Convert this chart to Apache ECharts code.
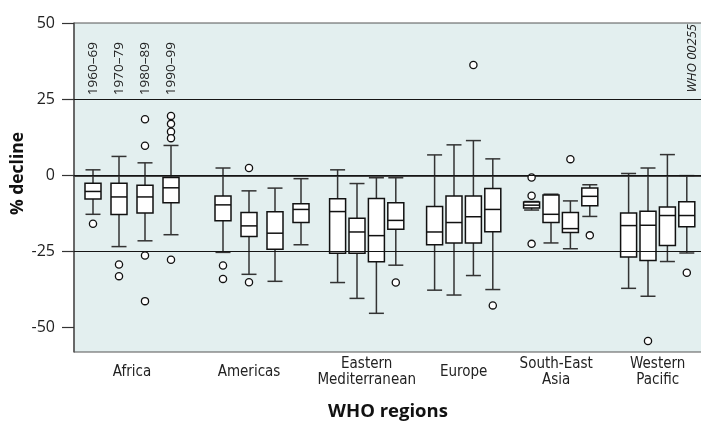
<!DOCTYPE html>
<html><head><meta charset="utf-8">
<script src="https://cdn.jsdelivr.net/npm/echarts@6/dist/echarts.min.js"></script>
<style>html,body{margin:0;padding:0;background:#fff}#c{width:701px;height:423px}</style>
</head><body><div id="c"></div>
<script>
// ---------- data ----------
const regions = ['Africa', 'Americas', 'Eastern\nMediterranean', 'Europe', 'South-East\nAsia', 'Western\nPacific'];
const decades = ['1960–69', '1970–79', '1980–89', '1990–99'];
const yTicks = [50, 25, 0, -25, -50];
const refLines = [25, 0, -25];
const sourceCode = 'WHO 00255';
// box statistics per decade: [min, Q1, median, Q3, max]
const africa = [[-12.8, -7.8, -5.3, -2.6, 1.8], [-23.4, -12.9, -7.1, -2.6, 6.2], [-21.5, -12.4, -7.1, -3.3, 4.1], [-19.5, -9.0, -4.1, -0.7, 9.8]];
const americas = [[-25.3, -14.9, -9.7, -6.8, 2.4], [-32.5, -20.1, -16.6, -12.2, -5.1], [-34.8, -24.3, -19.0, -12.0, -4.2], [-22.8, -15.5, -11.2, -9.3, -1.1]];
const easternMed = [[-35.2, -25.6, -11.9, -7.7, 1.8], [-40.4, -25.6, -18.6, -14.1, -2.7], [-45.3, -28.4, -19.8, -7.6, -0.8], [-29.5, -17.7, -14.8, -9.0, -0.8]];
const europe = [[-37.7, -22.8, -18.6, -10.2, 6.7], [-39.3, -22.2, -15.5, -6.8, 10.0], [-32.9, -22.2, -13.6, -6.8, 11.4], [-37.5, -18.5, -11.2, -4.3, 5.4]];
const southEastAsia = [[-11.4, -10.7, -9.8, -8.8, -8.6], [-22.2, -15.5, -12.8, -6.5, -6.2], [-24.1, -18.8, -17.5, -12.2, -8.4], [-13.5, -10.0, -6.9, -4.2, -3.1]];
const westernPacific = [[-37.1, -26.8, -16.5, -12.4, 0.6], [-39.7, -28.0, -16.4, -11.8, 2.4], [-28.3, -23.0, -13.2, -10.4, 6.8], [-25.5, -16.9, -13.2, -8.7, -0.1]];
// outliers per decade
const africaOut = [[-15.9], [-29.3, -33.1], [18.4, 9.7, -26.3, -41.3], [19.5, 16.9, 14.3, 12.2, -27.7]];
const americasOut = [[-29.6, -34.0], [2.4, -35.1], [], []];
const easternMedOut = [[], [], [], [-35.2]];
const europeOut = [[], [], [36.2], [-42.7]];
const southEastAsiaOut = [[-0.7, -6.7, -22.5], [], [5.3], [-19.7]];
const westernPacificOut = [[], [-54.4], [], [-32.0]];

// ---------- build ----------
const groupA = [africa, americas], groupAOut = [africaOut, americasOut];
const groupB = [easternMed, europe, southEastAsia, westernPacific];
const groupBOut = [easternMedOut, europeOut, southEastAsiaOut, westernPacificOut];

function boxRows(group) {
  const rows = [];
  group.forEach((reg, r) => reg.forEach((s, d) => rows.push([r, d].concat(s))));
  return rows;
}
function outRows(group) {
  const rows = [];
  group.forEach((reg, r) => reg.forEach((vals, d) => vals.forEach(v => rows.push([r, d, v]))));
  return rows;
}

function boxX(api, r, d) {
  return api.coord([r, 0])[0] + (d - 1.5) * api.size([1, 0])[0] * 0.2;
}
function renderBox(params, api) {
  const r = api.value(0), d = api.value(1);
  const x = boxX(api, r, d);
  const y = i => api.coord([r, api.value(i)])[1];
  const yMin = y(2), yQ1 = y(3), yMed = y(4), yQ3 = y(5), yMax = y(6);
  const hw = 8, cw = 7.5;
  const ws = { stroke: '#333', lineWidth: 1.5 };
  return {
    type: 'group', children: [
      { type: 'line', shape: { x1: x, y1: yMax, x2: x, y2: yQ3 }, style: ws },
      { type: 'line', shape: { x1: x, y1: yQ1, x2: x, y2: yMin }, style: ws },
      { type: 'line', shape: { x1: x - cw, y1: yMax, x2: x + cw, y2: yMax }, style: ws },
      { type: 'line', shape: { x1: x - cw, y1: yMin, x2: x + cw, y2: yMin }, style: ws },
      { type: 'rect', shape: { x: x - hw, y: yQ3, width: 2 * hw, height: yQ1 - yQ3 }, style: { fill: '#fff', stroke: '#111', lineWidth: 1.5 } },
      { type: 'line', shape: { x1: x - hw, y1: yMed, x2: x + hw, y2: yMed }, style: { stroke: '#111', lineWidth: 1.5 } }
    ]
  };
}
function renderOut(params, api) {
  const r = api.value(0), d = api.value(1);
  const x = boxX(api, r, d);
  const yy = api.coord([r, api.value(2)])[1];
  return { type: 'circle', shape: { cx: x, cy: yy, r: 3.6 }, style: { fill: '#fff', stroke: '#111', lineWidth: 1.3 } };
}
function renderDecade(params, api) {
  const d = api.value(1);
  const x = boxX(api, 0, d);
  const yy = api.coord([0, refLines[0]])[1] - 4;
  return {
    type: 'text', x: x, y: yy, rotation: Math.PI / 2,
    style: { text: decades[d], fill: '#222', font: '13.5px "Open Sans"', align: 'left', verticalAlign: 'middle' }
  };
}

const regionLabel = {
  fontFamily: '"DejaVu Sans Condensed", "Open Sans"', fontSize: 15, lineHeight: 16, color: '#222',
  verticalAlign: 'middle', margin: 20, interval: 0
};
const catAxisBase = { type: 'category', axisLine: { show: false }, axisTick: { show: false }, splitLine: { show: false }, axisLabel: regionLabel };
const yHidden = { type: 'value', min: -58, max: 50, show: false };
function shifted(name, px) {
  return { value: name, textStyle: { padding: [0, px, 0, 0], verticalAlign: 'middle', align: 'center' } };
}

const chart = echarts.init(document.getElementById('c'), null, { renderer: 'canvas' });
chart.setOption({
  animation: false,
  textStyle: { fontFamily: 'Open Sans' },
  grid: [
    { left: 74, right: -1, top: 23, bottom: 71, show: true, backgroundColor: '#e3efef', borderColor: '#555', borderWidth: 1, outerBoundsMode: 'none' },
    { left: 67, width: 260, top: 23, bottom: 71, outerBoundsMode: 'none' },
    { left: 318.2, width: 388, top: 23, bottom: 71, outerBoundsMode: 'none' }
  ],
  xAxis: [
    {
      gridIndex: 0, type: 'value', min: 0, max: 1,
      axisLine: { show: true, lineStyle: { color: '#444', width: 2 } }, axisTick: { show: false }, axisLabel: { show: false }, splitLine: { show: false },
      name: 'WHO regions', nameLocation: 'middle', nameGap: 50, nameMoveOverlap: false,
      nameTextStyle: { fontWeight: 'bold', fontSize: 18.5, color: '#111', fontFamily: 'Open Sans' }
    },
    Object.assign({ gridIndex: 1, data: [regions[0], shifted(regions[1], 26)] }, catAxisBase),
    Object.assign({ gridIndex: 2, data: [regions[2], regions[3], shifted(regions[4], 9), regions[5]] }, catAxisBase)
  ],
  yAxis: [
    {
      gridIndex: 0, type: 'value', min: -58, max: 50,
      axisLine: { show: true, lineStyle: { color: '#555', width: 1.5 } },
      axisTick: { show: true, length: 12, customValues: yTicks, lineStyle: { color: '#333', width: 1.2 } },
      axisLabel: { customValues: yTicks, margin: 19, fontSize: 16, color: '#222' },
      splitLine: { show: false },
      name: '% decline', nameLocation: 'middle', nameGap: 47, nameMoveOverlap: false,
      nameTextStyle: { fontWeight: 'bold', fontSize: 17.5, color: '#111', padding: [0, 0, 0, 28] }
    },
    Object.assign({ gridIndex: 1 }, yHidden),
    Object.assign({ gridIndex: 2 }, yHidden)
  ],
  series: [
    {
      type: 'line', xAxisIndex: 0, yAxisIndex: 0, data: [], z: 1, silent: true,
      markLine: { symbol: 'none', silent: true, label: { show: false }, lineStyle: { color: '#151515', width: 1, type: 'solid' }, data: refLines.map(v => ({ yAxis: v })) }
    },
    { type: 'custom', xAxisIndex: 1, yAxisIndex: 1, data: boxRows(groupA), encode: { x: 0, y: [2, 3, 4, 5, 6] }, renderItem: renderBox, z: 3 },
    { type: 'custom', xAxisIndex: 2, yAxisIndex: 2, data: boxRows(groupB), encode: { x: 0, y: [2, 3, 4, 5, 6] }, renderItem: renderBox, z: 3 },
    { type: 'custom', xAxisIndex: 1, yAxisIndex: 1, data: outRows(groupAOut), encode: { x: 0, y: 2 }, renderItem: renderOut, z: 4 },
    { type: 'custom', xAxisIndex: 2, yAxisIndex: 2, data: outRows(groupBOut), encode: { x: 0, y: 2 }, renderItem: renderOut, z: 4 },
    { type: 'custom', xAxisIndex: 1, yAxisIndex: 1, data: decades.map((t, d) => [0, d]), encode: { x: 0 }, renderItem: renderDecade, z: 4 }
  ],
  graphic: [{
    type: 'text', right: 2, top: 24, rotation: Math.PI / 2,
    style: { text: sourceCode, fill: '#222', font: 'italic 13px "Open Sans"' }
  }]
});
</script></body></html>
